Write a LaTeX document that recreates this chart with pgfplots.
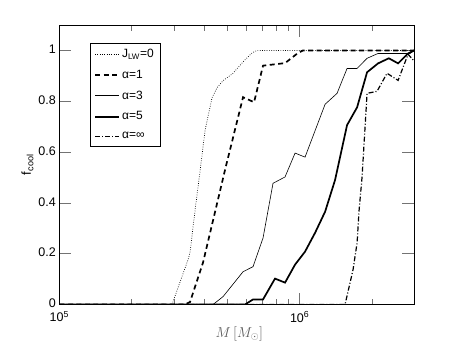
\documentclass[border=0pt]{standalone}
\usepackage{pgfplots}
\pgfplotsset{compat=1.18}
\usepackage{fontspec}
\setmainfont{Liberation Sans}

\begin{document}
\begin{tikzpicture}
\begin{axis}[
  scale only axis, width=355pt, height=279.5pt,
  xmode=log, xmin=1e5, xmax=3e6, ymin=0, ymax=1.1,
  xtick={1e5,1e6}, xticklabels={10\textsuperscript{5},10\textsuperscript{6}},
  minor xtick={2e5,3e5,4e5,5e5,6e5,7e5,8e5,9e5,2e6,3e6},
  ytick={0,0.2,0.4,0.6,0.8,1}, yticklabels={0,0.2,0.4,0.6,0.8,1},
  tick align=inside,
  major tick length=12pt, minor tick length=6pt,
  every tick/.style={black!55, line width=0.5pt},
  axis line style={line width=0.6pt},
  ticklabel style={font=\fontsize{12.5}{14}\selectfont},
  xticklabel style={yshift=-3.5pt},
  yticklabel style={yshift=1pt},
  xlabel={$M\,[M_\odot]$},
  xlabel style={at={(axis description cs:0.507,-0.104)}, anchor=center, font=\fontsize{14}{16}\selectfont, text=black!65},
  ylabel={f\textsubscript{cool}},
  ylabel style={at={(axis description cs:-0.09,0.5)}, anchor=center, font=\fontsize{13}{15}\selectfont},
  legend image code/.code={\draw[#1] (0pt,0pt) -- (24pt,0pt);},
  legend cell align=left,
  legend style={at={(axis description cs:0.0865,0.9356)}, anchor=north west, draw=black,
    font=\fontsize{12}{13}\selectfont, row sep=7pt, inner xsep=4pt, inner ysep=4pt},
]
\addplot[black, line width=0.7pt, dash pattern=on 0.7pt off 1.6pt] coordinates {
(1e5,0) (2.944e5,0) (3.432e5,0.176) (3.499e5,0.205) (3.670e5,0.37) (3.851e5,0.524)
(4.040e5,0.685) (4.320e5,0.814) (4.532e5,0.853) (4.800e5,0.881) (5.283e5,0.91)
(5.815e5,0.955) (6.338e5,0.99) (6.649e5,1.0) (3e6,1.0)};
\addlegendentry{J\textsubscript{LW}=0}
\addplot[black, line width=1.7pt, dash pattern=on 5pt off 3.5pt] coordinates {
(1e5,0) (3.336e5,0) (3.499e5,0.01) (3.963e5,0.165) (4.893e5,0.53) (5.815e5,0.816)
(6.461e5,0.796) (7.042e5,0.94) (8.694e5,0.95) (9.847e5,0.99) (1.033e6,1.0) (3e6,1.0)};
\addlegendentry{α=1}
\addplot[black, line width=0.6pt] coordinates {
(1e5,0) (4.362e5,0) (4.800e5,0.031) (5.815e5,0.129) (6.399e5,0.149) (7.042e5,0.262)
(7.749e5,0.477) (8.694e5,0.502) (9.570e5,0.596) (1.053e6,0.580) (1.276e6,0.788)
(1.431e6,0.831) (1.575e6,0.929) (1.734e6,0.929) (1.908e6,0.969) (2.120e6,0.988)
(2.880e6,0.988) (3e6,1.0)};
\addlegendentry{α=3}
\addplot[black, line width=1.7pt, legend image post style={line width=1.9pt}] coordinates {
(1e5,0) (5.927e5,0) (6.399e5,0.02) (7.042e5,0.02) (7.899e5,0.102) (8.694e5,0.086)
(9.570e5,0.157) (1.053e6,0.208) (1.159e6,0.282) (1.276e6,0.365) (1.404e6,0.49)
(1.575e6,0.706) (1.734e6,0.776) (1.908e6,0.914) (2.120e6,0.949) (2.350e6,0.969)
(2.568e6,0.949) (2.826e6,0.988) (3e6,1.0)};
\addlegendentry{α=5}
\addplot[black, line width=1.2pt, dash pattern=on 5pt off 2pt on 1pt off 2pt, legend image post style={line width=1.3pt}] coordinates {
(1e5,0) (1.545e6,0) (1.668e6,0.137) (1.734e6,0.243) (1.767e6,0.37) (1.818e6,0.50)
(1.872e6,0.70) (1.908e6,0.831) (2.099e6,0.839) (2.310e6,0.91) (2.568e6,0.882)
(2.826e6,0.985) (3e6,0.957)};
\addlegendentry{α=∞}
\end{axis}
\path (current axis.south west) ++(-59.3pt,-38.5pt) rectangle ++(458pt,343pt);
\end{tikzpicture}
\end{document}
